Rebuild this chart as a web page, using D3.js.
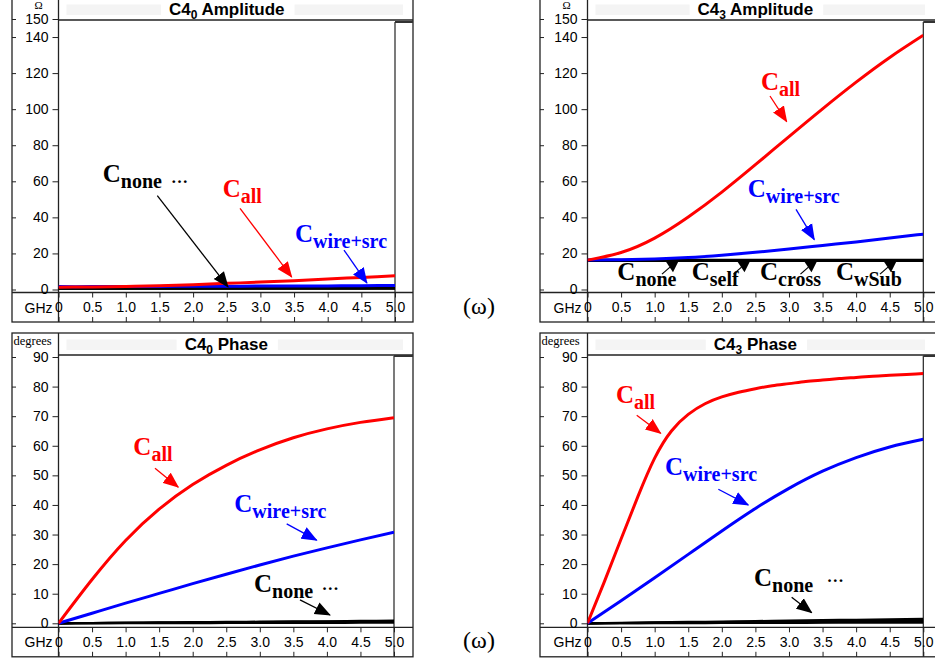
<!DOCTYPE html>
<html>
<head>
<meta charset="utf-8">
<script src="https://cdn.jsdelivr.net/npm/d3@7"></script>
<style>
  body { margin: 0; background: #fff; }
  svg { display: block; }
</style>
</head>
<body>
<div id="chart-container"></div>
<script>
const width = 935;
const height = 661;

// frequency grids (GHz)
const freqs = [0, 0.5, 1.0, 1.5, 2.0, 2.5, 3.0, 3.5, 4.0, 4.5, 5.0];
const freqsFine = [0, 0.25, 0.5, 0.75, 1.0, 1.25, 1.5, 1.75, 2.0, 2.25, 2.5,
  2.75, 3.0, 3.25, 3.5, 3.75, 4.0, 4.25, 4.5, 4.75, 5.0];
const xTicks = [0, 0.5, 1.0, 1.5, 2.0, 2.5, 3.0, 3.5, 4.0, 4.5, 5.0];
const xTickLabels = ["0", "0.5", "1.0", "1.5", "2.0", "2.5", "3.0", "3.5", "4.0", "4.5", "5.0"];
const ampTicks = [0, 20, 40, 60, 80, 100, 120, 140, 150];
const phaseTicks = [0, 10, 20, 30, 40, 50, 60, 70, 80, 90];

// C4_0 amplitude (ohm)
const amp0All = [1.3, 1.4, 1.7, 2.1, 2.7, 3.4, 4.1, 4.9, 5.8, 6.7, 7.6];
const amp0Wire = [1.6, 1.6, 1.7, 1.7, 1.8, 1.8, 1.9, 2.0, 2.0, 2.1, 2.2];
const amp0None = [0.5, 0.5, 0.5, 0.5, 0.5, 0.5, 0.5, 0.5, 0.5, 0.5, 0.5];
const amp0Self = [0.6, 0.6, 0.6, 0.6, 0.6, 0.6, 0.7, 0.7, 0.7, 0.7, 0.7];
const amp0Cross = [0.7, 0.7, 0.7, 0.7, 0.7, 0.8, 0.8, 0.8, 0.8, 0.8, 0.9];
const amp0WSub = [0.5, 0.5, 0.5, 0.5, 0.5, 0.6, 0.6, 0.6, 0.6, 0.6, 0.6];

// C4_3 amplitude (ohm)
const amp3All = [16.3, 20.5, 28.5, 40.2, 54.0, 69.2, 84.8, 100.2, 115.0, 128.7, 141.0];
const amp3Wire = [16.3, 16.5, 16.9, 17.7, 19.0, 20.6, 22.4, 24.4, 26.4, 28.5, 30.7];
const amp3None = [16.0, 16.0, 16.0, 16.0, 16.0, 16.0, 16.0, 16.0, 16.0, 16.0, 16.0];
const amp3Self = [16.2, 16.2, 16.2, 16.2, 16.2, 16.2, 16.2, 16.2, 16.2, 16.2, 16.2];
const amp3Cross = [16.4, 16.4, 16.4, 16.4, 16.4, 16.4, 16.4, 16.4, 16.4, 16.4, 16.4];
const amp3WSub = [15.9, 15.9, 15.9, 15.9, 15.9, 15.9, 15.9, 15.9, 15.9, 15.9, 15.9];

// C4_0 phase (degrees)
const ph0All = [0, 14.8, 28.0, 38.6, 46.9, 53.4, 58.6, 62.7, 65.7, 67.9, 69.5];
const ph0Wire = [0, 3.4, 6.8, 10.1, 13.4, 16.6, 19.7, 22.7, 25.5, 28.2, 30.8];
const ph0None = [0, 0.1, 0.2, 0.3, 0.4, 0.45, 0.55, 0.65, 0.7, 0.8, 0.9];
const ph0Self = [0, 0.05, 0.1, 0.15, 0.2, 0.25, 0.3, 0.35, 0.4, 0.45, 0.5];
const ph0Cross = [0, 0.08, 0.15, 0.22, 0.3, 0.36, 0.42, 0.5, 0.56, 0.62, 0.7];
const ph0WSub = [0, 0.02, 0.04, 0.06, 0.08, 0.1, 0.12, 0.14, 0.16, 0.18, 0.2];

// C4_3 phase (degrees)
const ph3All = [0, 14.0, 28.5, 42.8, 55.8, 65.0, 70.6, 74.2, 76.5, 78.1, 79.3,
  80.3, 81.0, 81.7, 82.2, 82.7, 83.1, 83.5, 83.8, 84.1, 84.4];
const ph3Wire = [0, 7.6, 15.4, 23.3, 31.2, 38.8, 45.6, 51.4, 56.0, 59.6, 62.2];
const ph3None = [0, 0.15, 0.3, 0.45, 0.6, 0.75, 0.9, 1.05, 1.2, 1.35, 1.5];
const ph3Self = [0, 0.1, 0.2, 0.3, 0.4, 0.5, 0.6, 0.7, 0.8, 0.9, 1.0];
const ph3Cross = [0, 0.06, 0.12, 0.18, 0.25, 0.3, 0.36, 0.42, 0.48, 0.54, 0.6];
const ph3WSub = [0, 0.03, 0.05, 0.08, 0.1, 0.13, 0.15, 0.18, 0.2, 0.23, 0.25];

const RED = "#ff0000", BLUE = "#0000ff", BLACK = "#000";
const sansFont = "'Liberation Sans', Arial, sans-serif";
const serifFont = "'Liberation Serif', 'Times New Roman', serif";

// helper: series list for a panel (black ones first, red on top)
let seriesOf = (f, fAll, all, wire, blacks) => {
  let s = blacks.map(v => ({ freqs: f, values: v, color: BLACK, width: 2.2 }));
  s.push({ freqs: f, values: wire, color: BLUE, width: 3 });
  s.push({ freqs: fAll, values: all, color: RED, width: 3 });
  return s;
};

const topPanel = { top: -2, titleBottom: 20, boxTop: 22, axisTop: 292.5, bottom: 322,
  yDomain: [0, 150], yRange: [289.5, 19], yTicks: ampTicks, unit: "Ω", titleRest: " Amplitude" };
const botPanel = { top: 333, titleBottom: 355, boxTop: 356, axisTop: 627.3, bottom: 656.8,
  yDomain: [0, 90], yRange: [623.3, 357], yTicks: phaseTicks, unit: "degrees", titleRest: " Phase" };

const panels = [
  Object.assign({}, topPanel, {
    left: 12, right: 413, axisX: 58.5, plotRight: 395, titleSub: "0",
    series: seriesOf(freqs, freqs, amp0All, amp0Wire, [amp0None, amp0Self, amp0Cross, amp0WSub]),
    labels: [
      { f: 0.657, v: 59.8, sub: "none", color: BLACK, dots: [1.672, 59.3] },
      { f: 2.44, v: 51.5, sub: "all", color: RED },
      { f: 3.514, v: 26.3, sub: "wire+src", color: BLUE }],
    arrows: [
      { from: [1.468, 52.0], to: [2.519, 1.4], color: BLACK },
      { from: [2.697, 45.0], to: [3.465, 6.9], color: RED },
      { from: [4.242, 21.9], to: [4.583, 3.6], color: BLUE }],
    flags: []
  }),
  Object.assign({}, topPanel, {
    left: 540, right: 941, axisX: 587.5, plotRight: 923.3, titleSub: "3",
    series: seriesOf(freqs, freqs, amp3All, amp3Wire, [amp3None, amp3Self, amp3Cross, amp3WSub]),
    labels: [
      { f: 2.583, v: 110.6, sub: "all", color: RED },
      { f: 2.385, v: 51.3, sub: "wire+src", color: BLUE },
      { f: 0.444, v: 5.3, sub: "none", color: BLACK },
      { f: 1.551, v: 5.3, sub: "self", color: BLACK },
      { f: 2.568, v: 5.3, sub: "cross", color: BLACK },
      { f: 3.70, v: 5.3, sub: "wSub", color: BLACK }],
    arrows: [
      { from: [2.717, 107.3], to: [2.966, 93.1], color: RED },
      { from: [3.105, 44.4], to: [3.377, 27.7], color: BLUE }],
    flags: [1.258, 2.323, 3.32, 4.504]
  }),
  Object.assign({}, botPanel, {
    left: 12, right: 413, axisX: 58.5, plotRight: 394, titleSub: "0",
    series: seriesOf(freqs, freqs, ph0All, ph0Wire, [ph0None, ph0Self, ph0Cross, ph0WSub]),
    labels: [
      { f: 1.115, v: 56.9, sub: "all", color: RED },
      { f: 2.62, v: 37.7, sub: "wire+src", color: BLUE },
      { f: 2.914, v: 10.7, sub: "none", color: BLACK, dots: [3.923, 11.3] }],
    arrows: [
      { from: [1.438, 52.4], to: [1.785, 46.0], color: RED },
      { from: [3.401, 33.6], to: [3.848, 28.1], color: BLUE },
      { from: [3.599, 7.9], to: [4.046, 2.8], color: BLACK }],
    flags: []
  }),
  Object.assign({}, botPanel, {
    left: 540, right: 941, axisX: 587.5, plotRight: 923.3, titleSub: "3",
    series: seriesOf(freqs, freqsFine, ph3All, ph3Wire, [ph3None, ph3Self, ph3Cross, ph3WSub]),
    labels: [
      { f: 0.424, v: 74.4, sub: "all", color: RED },
      { f: 1.154, v: 50.1, sub: "wire+src", color: BLUE },
      { f: 2.479, v: 12.6, sub: "none", color: BLACK, dots: [3.562, 13.9] }],
    arrows: [
      { from: [0.733, 70.3], to: [1.09, 64.2], color: RED },
      { from: [1.948, 45.3], to: [2.394, 40.0], color: BLUE },
      { from: [3.04, 8.8], to: [3.338, 3.6], color: BLACK }],
    flags: []
  })
];

const svg = d3.select("#chart-container").append("svg")
  .attr("width", width)
  .attr("height", height);
const defs = svg.append("defs");

// arrow heads
[["k", BLACK], ["r", RED], ["b", BLUE]].forEach(([id, c]) => {
  defs.append("marker")
    .attr("id", "head-" + id)
    .attr("viewBox", "0 -7 16 14")
    .attr("refX", 15)
    .attr("refY", 0)
    .attr("markerWidth", 16)
    .attr("markerHeight", 14)
    .attr("markerUnits", "userSpaceOnUse")
    .attr("orient", "auto")
    .append("path")
    .attr("d", "M0,-6.5L16,0L0,6.5Z")
    .attr("fill", c);
});
let headId = c => c === RED ? "head-r" : (c === BLUE ? "head-b" : "head-k");

let drawPanel = (p, idx) => {
  const g = svg.append("g");
  const x = d3.scaleLinear().domain([0, 5]).range([p.axisX, p.plotRight]);
  const y = d3.scaleLinear().domain(p.yDomain).range(p.yRange);
  const stroke = "#222";

  // frame and separators
  g.append("rect")
    .attr("x", p.left).attr("y", p.top)
    .attr("width", p.right - p.left).attr("height", p.bottom - p.top)
    .attr("fill", "none").attr("stroke", stroke).attr("stroke-width", 1.3);
  g.append("line")
    .attr("x1", p.axisX).attr("x2", p.right)
    .attr("y1", p.titleBottom).attr("y2", p.titleBottom)
    .attr("stroke", stroke).attr("stroke-width", 1.3);
  g.append("line")
    .attr("x1", p.left).attr("x2", p.right)
    .attr("y1", p.axisTop).attr("y2", p.axisTop)
    .attr("stroke", stroke).attr("stroke-width", 1.3);
  g.append("line")
    .attr("x1", p.axisX).attr("x2", p.axisX)
    .attr("y1", p.top).attr("y2", p.bottom)
    .attr("stroke", stroke).attr("stroke-width", 1.3);
  g.append("line")
    .attr("x1", p.plotRight).attr("x2", p.plotRight)
    .attr("y1", p.boxTop).attr("y2", p.bottom)
    .attr("stroke", stroke).attr("stroke-width", 1.2);
  // empty side box
  g.append("line")
    .attr("x1", p.plotRight).attr("x2", p.right)
    .attr("y1", p.boxTop).attr("y2", p.boxTop)
    .attr("stroke", "#333").attr("stroke-width", 2);

  // title strip
  const cx = (p.axisX + p.plotRight) / 2;
  const title = g.append("text")
    .attr("x", cx).attr("y", p.titleBottom - 5)
    .attr("text-anchor", "middle")
    .style("font", `bold 17px ${sansFont}`);
  title.append("tspan").text("C4");
  title.append("tspan").attr("dy", 4).style("font-size", "12px").text(p.titleSub);
  title.append("tspan").attr("dy", -4).text(p.titleRest);
  const tw = title.node().getComputedTextLength();
  g.insert("rect", "text")
    .attr("x", p.axisX + 8).attr("y", p.titleBottom - 15.5)
    .attr("width", cx - tw / 2 - 8 - (p.axisX + 8)).attr("height", 10.5)
    .attr("fill", "#f4f4f4");
  g.insert("rect", "text")
    .attr("x", cx + tw / 2 + 10).attr("y", p.titleBottom - 15.5)
    .attr("width", Math.min(p.right, 935) - 10 - (cx + tw / 2 + 10)).attr("height", 10.5)
    .attr("fill", "#f4f4f4");

  // unit label
  if (p.unit === "Ω") {
    g.append("text").attr("x", p.left + 26.5).attr("y", p.top + 10.5)
      .attr("text-anchor", "middle")
      .style("font", `11px ${serifFont}`).text(p.unit);
  } else {
    g.append("text").attr("x", p.left + 1.5).attr("y", p.top + 12)
      .style("font", `12.5px ${serifFont}`).text(p.unit);
  }

  // y axis
  const yAxis = g.append("g")
    .attr("transform", `translate(${p.axisX},0)`)
    .call(d3.axisLeft(y).tickValues(p.yTicks).tickSize(6).tickPadding(4));
  yAxis.select(".domain").remove();
  g.append("g")
    .attr("transform", `translate(${p.left},0)`)
    .call(d3.axisRight(y).tickValues(p.yTicks).tickSize(4).tickFormat(""))
    .select(".domain").remove();

  // x axis
  const xAxis = g.append("g")
    .attr("transform", `translate(0,${p.axisTop})`)
    .call(d3.axisBottom(x).tickValues(xTicks).tickSize(5).tickPadding(5)
      .tickFormat((d, i) => xTickLabels[i]));
  xAxis.select(".domain").remove();
  g.append("g")
    .attr("transform", `translate(0,${p.bottom})`)
    .call(d3.axisTop(x).tickValues(xTicks).tickSize(5).tickFormat(""))
    .select(".domain").remove();
  g.selectAll(".tick text").style("font", `14px ${sansFont}`).attr("fill", "#000");
  g.selectAll(".tick line").attr("stroke", stroke);
  g.append("text")
    .attr("x", p.axisX - 6).attr("y", p.axisTop + 20)
    .attr("text-anchor", "end")
    .style("font", `14px ${sansFont}`).text("GHz");

  // curves
  defs.append("clipPath").attr("id", "clip" + idx)
    .append("rect")
    .attr("x", p.axisX).attr("y", p.titleBottom)
    .attr("width", p.plotRight - p.axisX).attr("height", p.axisTop - p.titleBottom - 0.5);
  const line = d3.line().curve(d3.curveNatural);
  const gLines = g.append("g").attr("clip-path", `url(#clip${idx})`);
  gLines.selectAll("path")
    .data(p.series)
    .enter().append("path")
    .attr("d", s => line(s.freqs.map((f, i) => [x(f), y(s.values[i])])))
    .attr("fill", "none")
    .attr("stroke", s => s.color)
    .attr("stroke-width", s => s.width);

  // flags on the flat C4_3 line
  p.flags.forEach(f => {
    const fx = x(f), fy = y(16) - 0.5;
    g.append("path")
      .attr("d", `M${fx - 7},${fy}L${fx + 7},${fy}L${fx + 1},${fy + 12}Z`)
      .attr("fill", BLACK);
    g.append("line")
      .attr("x1", fx - 10).attr("y1", fy + 14)
      .attr("x2", fx - 2).attr("y2", fy + 7)
      .attr("stroke", BLACK).attr("stroke-width", 1.2);
  });

  // arrows
  g.selectAll(".arrow")
    .data(p.arrows)
    .enter().append("line")
    .attr("class", "arrow")
    .attr("x1", a => x(a.from[0])).attr("y1", a => y(a.from[1]))
    .attr("x2", a => x(a.to[0])).attr("y2", a => y(a.to[1]))
    .attr("stroke", a => a.color)
    .attr("stroke-width", 1.3)
    .attr("marker-end", a => `url(#${headId(a.color)})`);

  // labels
  p.labels.forEach(l => {
    const t = g.append("text")
      .attr("x", x(l.f)).attr("y", y(l.v))
      .attr("fill", l.color)
      .style("font", `bold 25px ${serifFont}`);
    t.append("tspan").text("C");
    t.append("tspan").attr("dy", 6).style("font-size", "20px").text(l.sub);
    if (l.dots) {
      g.append("text")
        .attr("x", x(l.dots[0])).attr("y", y(l.dots[1]))
        .attr("fill", l.color)
        .style("font", `bold 17px ${serifFont}`)
        .text("…");
    }
  });
};

panels.forEach(drawPanel);

// (ω) marks between the columns
svg.selectAll(".omega")
  .data([314, 648])
  .enter().append("text")
  .attr("class", "omega")
  .attr("x", 479).attr("y", d => d)
  .attr("text-anchor", "middle")
  .style("font", `24px ${serifFont}`)
  .text("(ω)");
</script>
</body>
</html>
